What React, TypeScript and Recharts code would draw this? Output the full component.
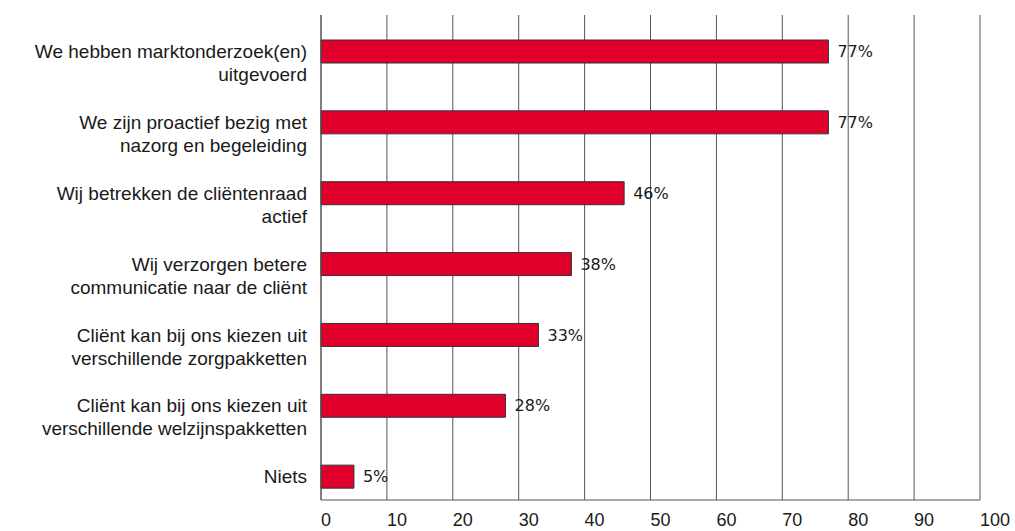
import { BarChart, Bar, XAxis, YAxis, CartesianGrid, LabelList } from 'recharts';

// answers, one entry per bar (line breaks as in the source labels)
const categories = [
  'We hebben marktonderzoek(en)\nuitgevoerd',
  'We zijn proactief bezig met\nnazorg en begeleiding',
  'Wij betrekken de cliëntenraad\nactief',
  'Wij verzorgen betere\ncommunicatie naar de cliënt',
  'Cliënt kan bij ons kiezen uit\nverschillende zorgpakketten',
  'Cliënt kan bij ons kiezen uit\nverschillende welzijnspakketten',
  'Niets',
];
const values = [77, 77, 46, 38, 33, 28, 5];
const xTicks = [0, 10, 20, 30, 40, 50, 60, 70, 80, 90, 100];

const data = categories.map((name, i) => ({ name, value: values[i] }));

const labelFont = '"Liberation Sans", Arial, Helvetica, sans-serif';

function CategoryTick({ x, y, payload }: any) {
  const lines = String(payload.value).split('\n');
  return (
    <text x={x - 14} y={y} textAnchor="end" fill="#1a1a1a" fontSize={19} fontFamily={labelFont}>
      {lines.map((line, i) => (
        <tspan key={i} x={x - 14} dy={i === 0 ? '0.35em' : 23}>
          {line}
        </tspan>
      ))}
    </text>
  );
}

function ValueTick({ x, y, payload }: any) {
  return (
    <text x={x} y={y + 26} textAnchor="start" fill="#1a1a1a" fontSize={18} fontFamily={labelFont}>
      {payload.value}
    </text>
  );
}

export default function App() {
  return (
    <div style={{ position: 'absolute', left: 0, top: 0, width: 1015, height: 531, background: '#fff' }}>
      <BarChart
        width={1015}
        height={531}
        data={data}
        layout="vertical"
        margin={{ top: 15, right: 35, bottom: 1, left: 0 }}
      >
        <CartesianGrid horizontal={false} stroke="#555" />
        <XAxis
          type="number"
          domain={[0, 100]}
          ticks={xTicks}
          interval={0}
          axisLine={{ stroke: '#555' }}
          tickLine={false}
          tickSize={0}
          tickMargin={0}
          height={30}
          tick={<ValueTick />}
        />
        <YAxis
          type="category"
          dataKey="name"
          width={321}
          interval={0}
          axisLine={{ stroke: '#555' }}
          tickLine={false}
          tickSize={0}
          tickMargin={0}
          padding={{ top: 1, bottom: -12 }}
          tick={<CategoryTick />}
        />
        <Bar dataKey="value" barSize={23} fill="#E1002B" stroke="#333" strokeWidth={1} isAnimationActive={false}>
          <LabelList
            dataKey="value"
            position="right"
            offset={9}
            formatter={(v: any) => `${v}%`}
            fill="#1a1a1a"
            fontSize={16}
            fontFamily='"DejaVu Sans", Verdana, sans-serif'
          />
        </Bar>
      </BarChart>
    </div>
  );
}
